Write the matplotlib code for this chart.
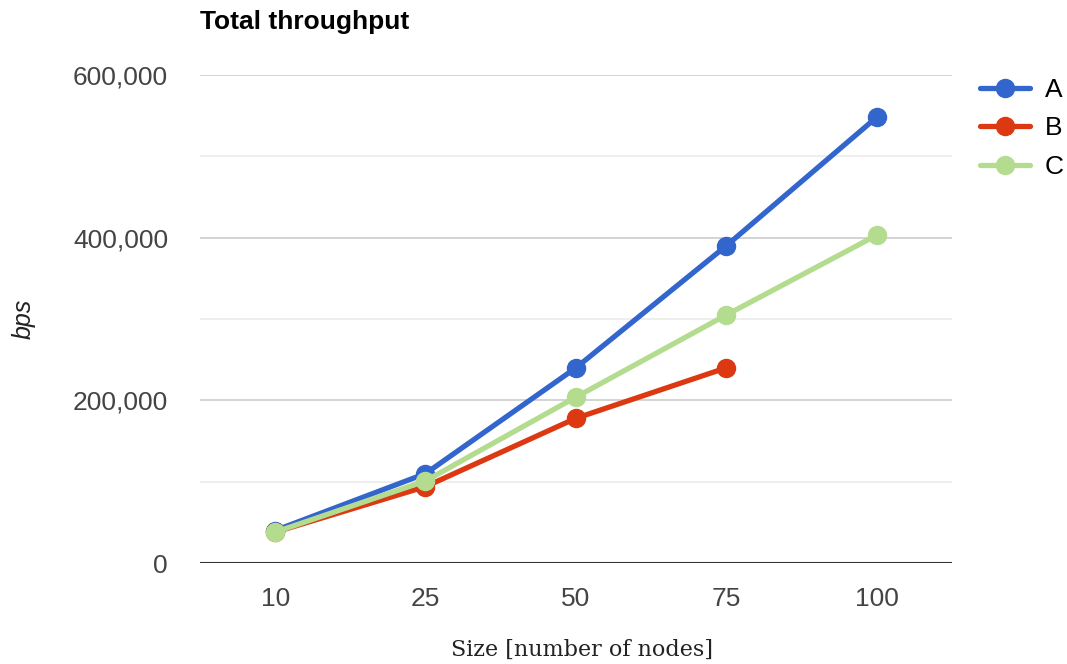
import matplotlib.pyplot as plt
from matplotlib.ticker import FuncFormatter, MultipleLocator

plt.rcParams["font.family"] = ["Liberation Sans", "DejaVu Sans"]

sizes = ["10", "25", "50", "75", "100"]
a_vals = [40000, 110000, 240000, 390000, 548000]
b_vals = [38000, 94000, 178000, 240000]
c_vals = [38000, 101000, 204000, 305000, 403000]

colors = {"A": "#3366cc", "B": "#dc3912", "C": "#b3dc8f"}

fig = plt.figure(figsize=(10.67, 6.64), dpi=100)
ax = fig.add_axes([0.1874, 0.152, 0.7046, 0.735])

xs = list(range(len(sizes)))
for name, vals in [("A", a_vals), ("B", b_vals), ("C", c_vals)]:
    ax.plot(xs[:len(vals)], vals, color=colors[name], linewidth=3.8,
            marker="o", markersize=13, label=name, solid_capstyle="round")

ax.set_xlim(-0.5, len(sizes) - 0.5)
ax.set_ylim(0, 600000)
ax.set_xticks(xs)
ax.set_xticklabels(sizes)
ax.yaxis.set_major_locator(MultipleLocator(200000))
ax.yaxis.set_minor_locator(MultipleLocator(100000))
ax.yaxis.set_major_formatter(FuncFormatter(lambda v, p: f"{int(v):,}"))

ax.grid(axis="y", which="major", color="#cccccc", linewidth=1.2)
ax.grid(axis="y", which="minor", color="#ebebeb", linewidth=1.2)
ax.axhline(0, color="#333333", linewidth=1.5, zorder=1)
ax.set_axisbelow(True)
for s in ax.spines.values():
    s.set_visible(False)
ax.tick_params(axis="both", which="both", length=0, labelsize=19,
               labelcolor="#444444", pad=0)
ax.tick_params(axis="y", pad=23)
ax.tick_params(axis="x", pad=17)

fig.text(0.1874, 0.967, "Total throughput", fontsize=19, fontweight="bold",
         ha="left", va="center")
ax.set_ylabel("bps", fontsize=18, style="italic", color="#222222")
ax.yaxis.set_label_coords(-0.219, 0.5)
fig.text(0.545, 0.005, "Size [number of nodes]", fontsize=16,
         family="DejaVu Serif", color="#222222", ha="center", va="bottom")

ax.legend(loc="upper left", bbox_to_anchor=(1.037, 0.994), frameon=False,
          fontsize=19, handlelength=1.9, handletextpad=0.57, labelspacing=0.55,
          borderaxespad=0, borderpad=0)

fig.savefig("out.png", dpi=100)
